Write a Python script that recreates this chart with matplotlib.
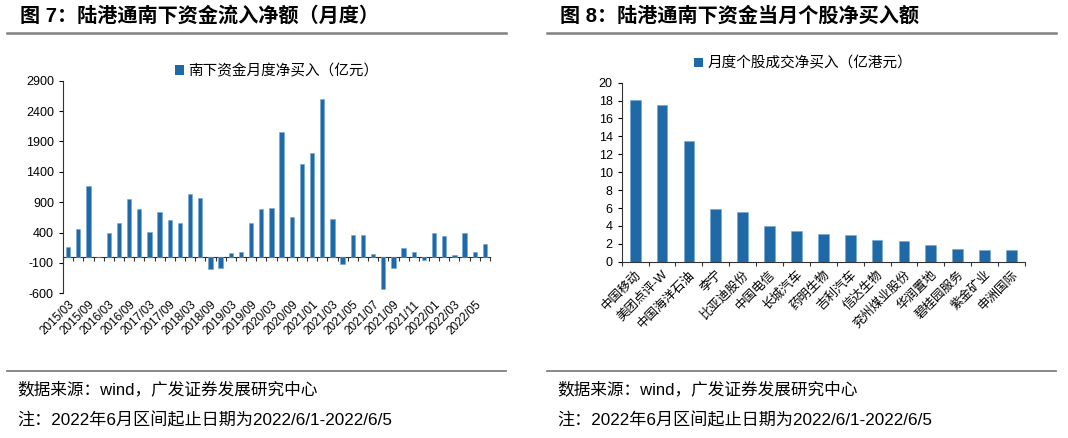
import matplotlib
matplotlib.use("Agg")
import matplotlib.pyplot as plt
from matplotlib.lines import Line2D
from matplotlib.patches import Patch

plt.rcParams['font.family'] = ['Liberation Sans', 'Noto Sans CJK SC', 'DejaVu Sans']
plt.rcParams['axes.unicode_minus'] = False

# ---- 图7 数据：南下资金月度净买入（亿元） ----
periods = ['2015/03', '2015/06', '2015/09', '2015/12', '2016/03', '2016/06', '2016/09', '2016/12',
           '2017/03', '2017/06', '2017/09', '2017/12', '2018/03', '2018/06', '2018/09', '2018/12',
           '2019/03', '2019/06', '2019/09', '2019/12', '2020/03', '2020/06', '2020/09', '2020/12',
           '2021/01', '2021/02', '2021/03', '2021/04', '2021/05', '2021/06', '2021/07', '2021/08',
           '2021/09', '2021/10', '2021/11', '2021/12', '2022/01', '2022/02', '2022/03', '2022/04',
           '2022/05', '2022/06']
net_flow = [165, 455, 1168, 5, 400, 565, 949, 784,
            417, 730, 603, 565, 1031, 976, -200, -178,
            58, 77, 549, 784, 806, 2063, 653, 1525,
            1717, 2595, 620, -110, 362, 362, 44, -532,
            -176, 148, 77, -44, 400, 351, 27, 389,
            77, 208]

# ---- 图8 数据：当月个股成交净买入（亿港元） ----
stocks = ['中国移动', '美团点评-W', '中国海洋石油', '李宁', '比亚迪股份', '中国电信', '长城汽车',
          '药明生物', '吉利汽车', '信达生物', '兖州煤业股份', '华润置地', '碧桂园服务',
          '紫金矿业', '申洲国际']
stock_buy = [18.03, 17.5, 13.45, 5.88, 5.55, 3.95, 3.46, 3.13, 2.94, 2.38, 2.27, 1.82, 1.42, 1.34, 1.34]

bar_color = '#1f6aa6'
edge_color = '#6fa6d4'
cjk = ['Noto Sans CJK SC', 'DejaVu Sans']
mixed = ['Liberation Sans', 'Noto Sans CJK SC', 'DejaVu Sans']

fig = plt.figure(figsize=(10.68, 4.38), dpi=100)

# ---------------- 左图 ----------------
ax1 = fig.add_axes([0.0590, 0.3304, 0.3998, 0.4854])
x1 = list(range(len(periods)))
ax1.bar(x1, net_flow, width=0.42, color=bar_color, edgecolor=edge_color, linewidth=0.4, zorder=3)
ax1.set_xlim(-0.5, len(periods) - 0.5)
ax1.set_ylim(-600, 2900)
ax1.set_yticks(range(-600, 2901, 500))
ax1.tick_params(axis='y', labelsize=9, length=3, width=0.8, direction='out')
ax1.set_xticks(x1[::2])
ax1.set_xticklabels(periods[::2], rotation=45, ha='right', rotation_mode='anchor', fontsize=8.5)
ax1.tick_params(axis='x', length=0, pad=4)
for s in ['top', 'right', 'bottom']:
    ax1.spines[s].set_visible(False)
ax1.spines['left'].set_color('#333333')
# 零轴及分类刻度
zero_frac = (0 - (-600)) / 3500
sec = ax1.secondary_xaxis(zero_frac)
sec.set_xticks([i - 0.5 for i in range(len(periods) + 1)])
sec.set_xticklabels([])
sec.tick_params(axis='x', length=3, width=0.8, direction='out', colors='#333333')
sec.spines['bottom'].set_color('#333333')
ax1.legend(handles=[Patch(facecolor=bar_color, label='南下资金月度净买入（亿元）')],
           loc='upper center', bbox_to_anchor=(0.5, 1.14), frameon=False,
           prop={'family': cjk, 'size': 10.5}, handlelength=0.6, handleheight=0.6, handletextpad=0.3)

# ---------------- 右图 ----------------
ax2 = fig.add_axes([0.5821, 0.4025, 0.3776, 0.4087])
x2 = list(range(len(stocks)))
ax2.bar(x2, stock_buy, width=0.4, color=bar_color, edgecolor=edge_color, linewidth=0.4, zorder=3)
ax2.set_xlim(-0.5, len(stocks) - 0.5)
ax2.set_ylim(0, 20)
ax2.set_yticks(range(0, 21, 2))
ax2.tick_params(axis='y', labelsize=9, length=3, width=0.8)
ax2.set_xticks([i - 0.5 for i in range(len(stocks) + 1)], minor=True)
ax2.set_xticks(x2)
ax2.set_xticklabels(stocks, rotation=45, ha='right', rotation_mode='anchor', fontsize=9, family=mixed)
ax2.tick_params(axis='x', which='major', length=0, pad=5)
ax2.tick_params(axis='x', which='minor', length=3, width=0.8, direction='out', colors='#333333')
for s in ['top', 'right']:
    ax2.spines[s].set_visible(False)
ax2.spines['left'].set_color('#333333')
ax2.spines['bottom'].set_color('#333333')
ax2.legend(handles=[Patch(facecolor=bar_color, label='月度个股成交净买入（亿港元）')],
           loc='upper center', bbox_to_anchor=(0.45, 1.22), frameon=False,
           prop={'family': cjk, 'size': 10.5}, handlelength=0.6, handleheight=0.6, handletextpad=0.3)

# ---------------- 标题、分隔线与注释 ----------------
def px_x(v):
    return v / 1068

def px_y(v):
    return 1 - v / 438

for x0, title in [(20, '图 7：陆港通南下资金流入净额（月度）'), (560, '图 8：陆港通南下资金当月个股净买入额')]:
    fig.text(px_x(x0), px_y(16), title, fontsize=14.5, fontweight='bold', family=mixed, va='center')

for xa, xb in [(7, 506), (547, 1056)]:
    fig.add_artist(Line2D([px_x(xa), px_x(xb)], [px_y(33), px_y(33)], color='#808080', linewidth=1.8))
    fig.add_artist(Line2D([px_x(xa), px_x(xb)], [px_y(371), px_y(371)], color='#808080', linewidth=1.3))

for x0 in [17, 557]:
    fig.text(px_x(x0), px_y(389), '数据来源：wind，广发证券发展研究中心', fontsize=12, family=mixed, va='center')
    fig.text(px_x(x0), px_y(420), '注：2022年6月区间起止日期为2022/6/1-2022/6/5', fontsize=12.3, family=mixed, va='center')

fig.savefig('out.png', dpi=100)
